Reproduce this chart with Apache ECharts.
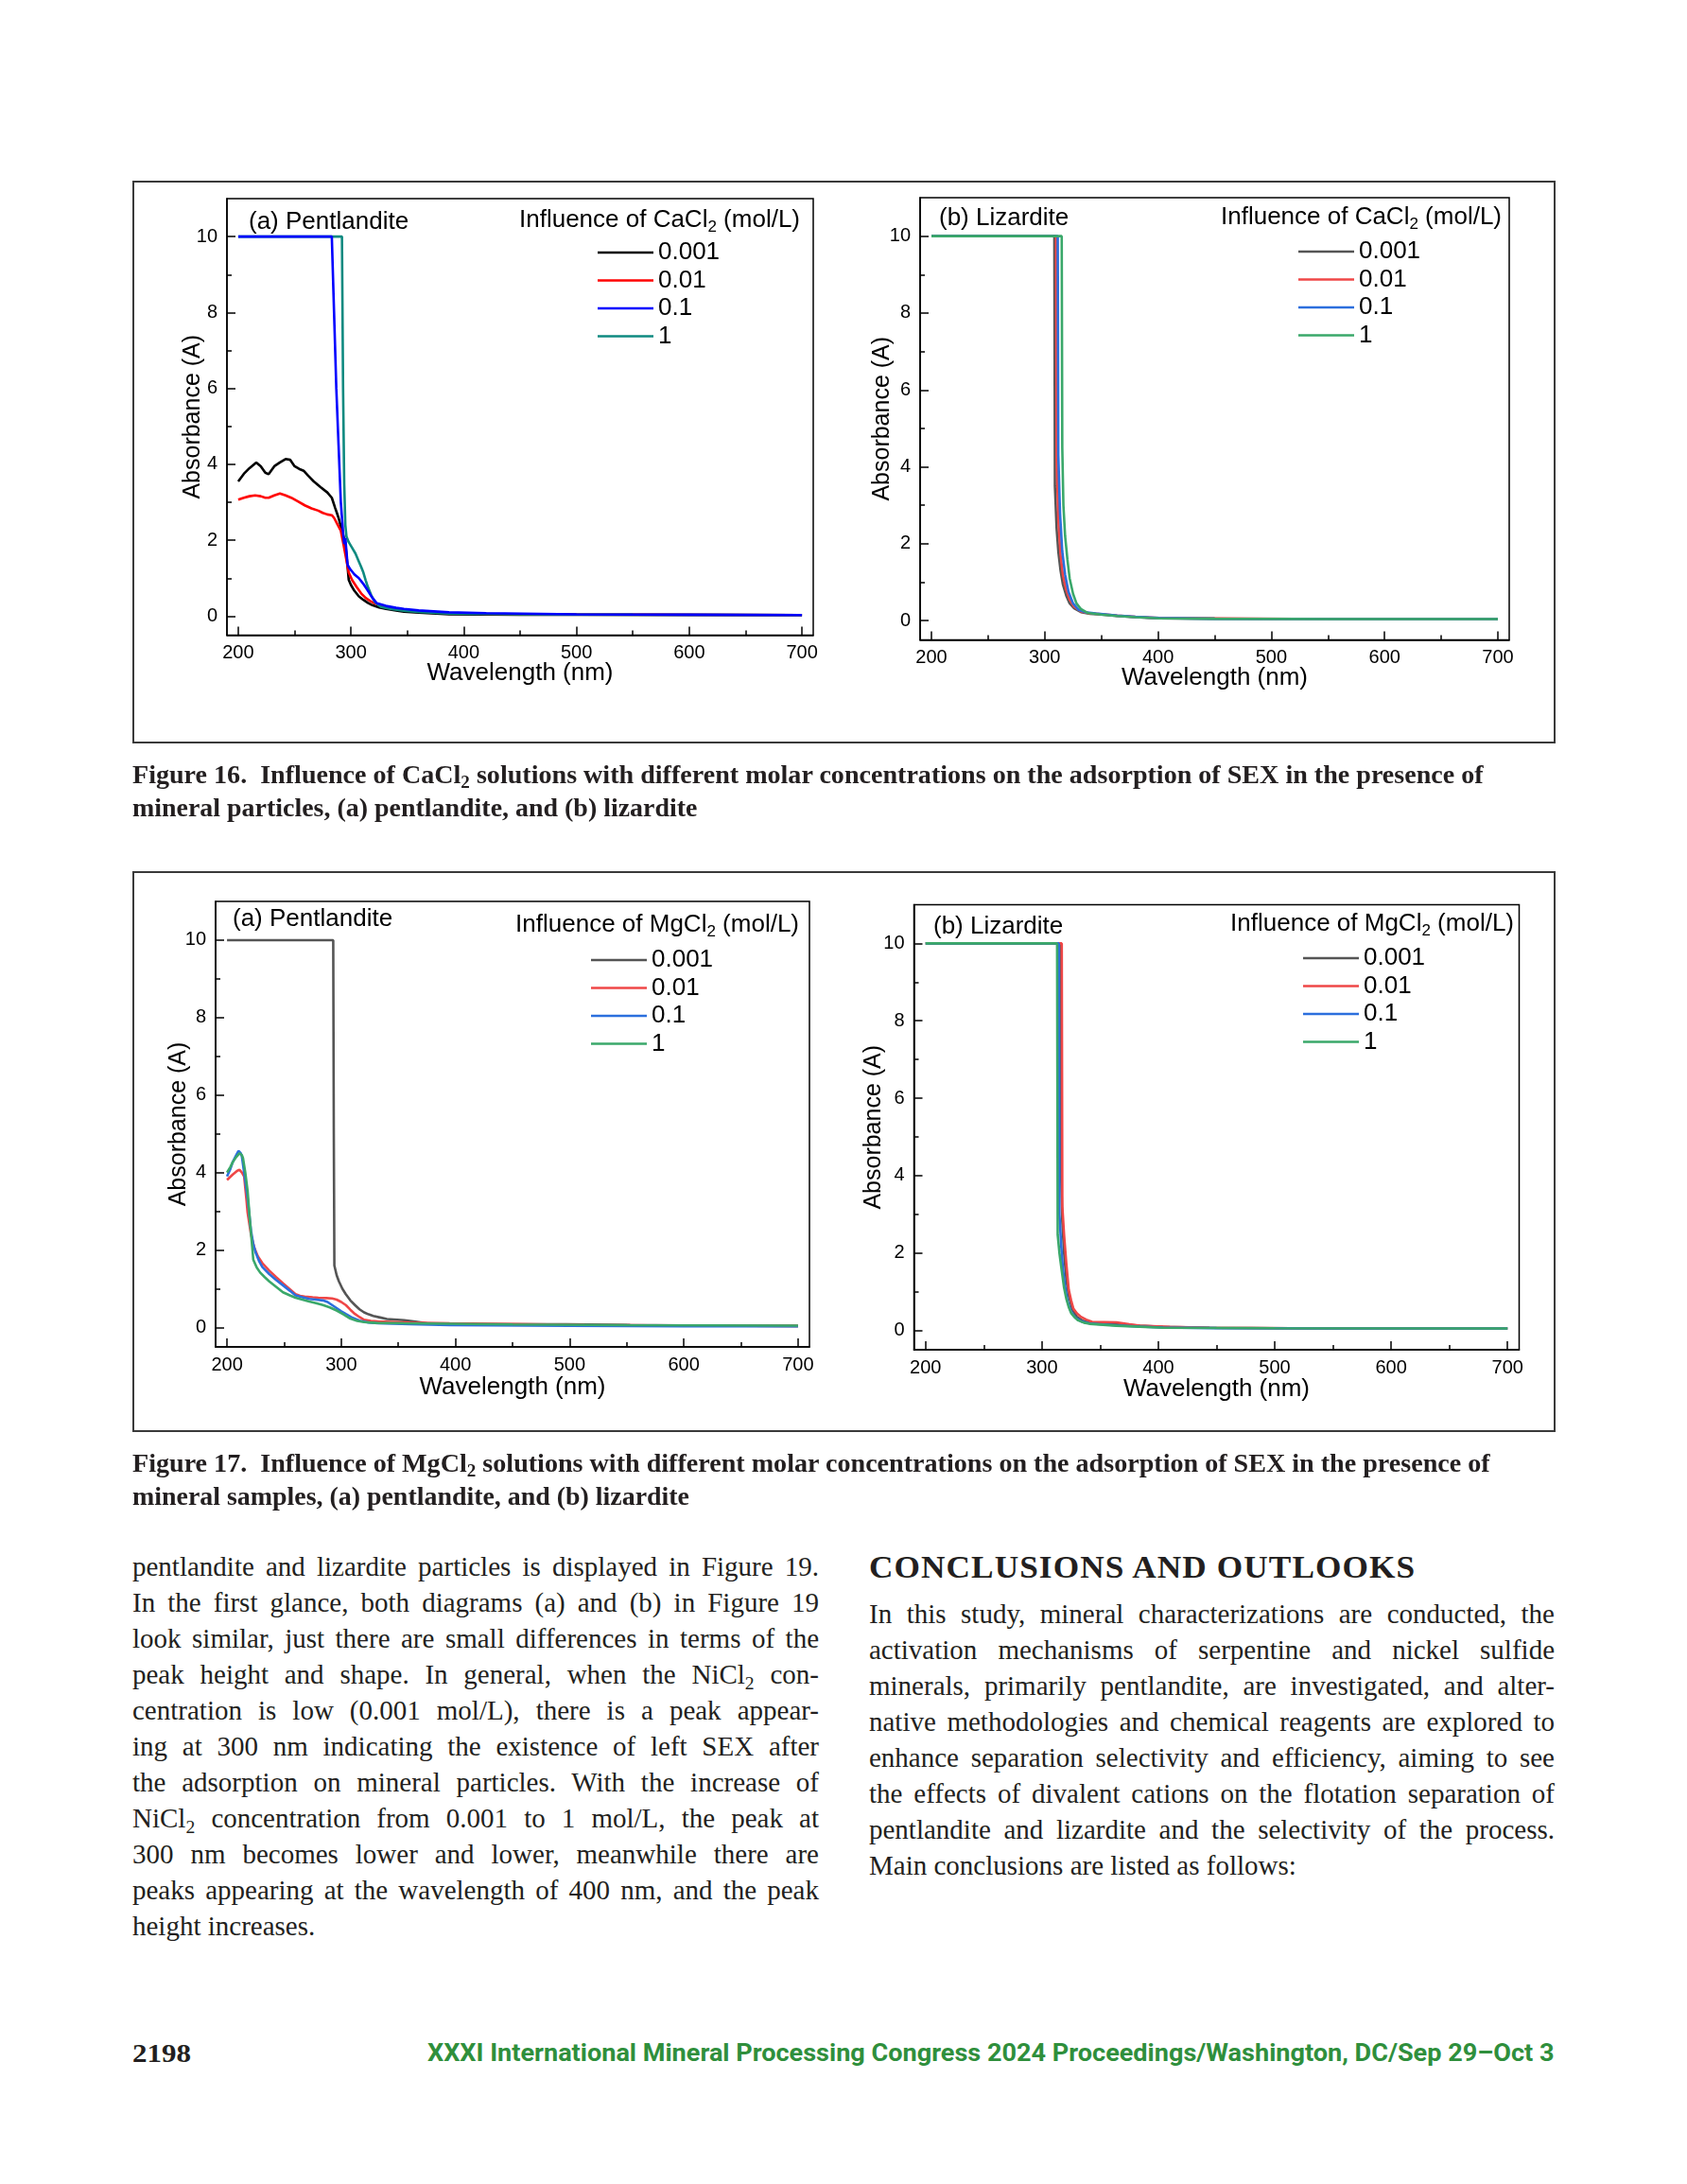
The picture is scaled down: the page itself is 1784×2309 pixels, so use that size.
<!DOCTYPE html>
<html><head><meta charset="utf-8">
<script src="https://cdn.jsdelivr.net/npm/echarts@6/dist/echarts.min.js"></script>
<style>
html,body{margin:0;padding:0;background:#fff;}
#page{position:relative;width:1784px;height:2309px;overflow:hidden;background:#fff;}
.box{position:absolute;border:2px solid #3a3a3a;box-sizing:border-box;}
#chart{position:absolute;left:0;top:0;width:1784px;height:1530px;}
.ln{position:absolute;white-space:nowrap;transform-origin:0 50%;color:#231f20;}
.cap{font-family:"Liberation Serif",serif;font-weight:bold;font-size:27px;line-height:36px;}
.body{font-family:"Liberation Serif",serif;font-size:29px;line-height:38px;}
.head{font-family:"Liberation Serif",serif;font-weight:bold;font-size:33px;line-height:40px;letter-spacing:1px;}
.foot{font-family:"Liberation Serif",serif;font-weight:bold;font-size:28px;line-height:36px;}
.green{font-family:Roboto,"Liberation Sans",sans-serif;font-weight:bold;font-size:25px;line-height:36px;color:#2f8f3c;}
sub{font-size:0.68em;vertical-align:-0.28em;line-height:0;}
</style></head>
<body>
<div id="page">
  <div class="box" style="left:140px;top:191px;width:1505px;height:595px;"></div>
  <div class="box" style="left:140px;top:921px;width:1505px;height:593px;"></div>
  <div id="chart"></div>

  <div class="ln cap" data-w="1429" style="left:140px;top:801px;">Figure 16.&nbsp; Influence of CaCl<sub>2</sub> solutions with different molar concentrations on the adsorption of SEX in the presence of</div>
  <div class="ln cap" data-w="597" style="left:140px;top:836px;">mineral particles, (a) pentlandite, and (b) lizardite</div>

  <div class="ln cap" data-w="1436" style="left:140px;top:1529px;">Figure 17.&nbsp; Influence of MgCl<sub>2</sub> solutions with different molar concentrations on the adsorption of SEX in the presence of</div>
  <div class="ln cap" data-w="589" style="left:140px;top:1564px;">mineral samples, (a) pentlandite, and (b) lizardite</div>

  <div class="ln body" data-j="726" data-g="L" style="left:140px;top:1637px;">pentlandite and lizardite particles is displayed in Figure 19.</div>
  <div class="ln body" data-j="726" data-g="L" style="left:140px;top:1675px;">In the first glance, both diagrams (a) and (b) in Figure 19</div>
  <div class="ln body" data-j="726" data-g="L" style="left:140px;top:1713px;">look similar, just there are small differences in terms of the</div>
  <div class="ln body" data-j="726" data-g="L" style="left:140px;top:1751px;">peak height and shape. In general, when the NiCl<sub>2</sub> con-</div>
  <div class="ln body" data-j="726" data-g="L" style="left:140px;top:1789px;">centration is low (0.001 mol/L), there is a peak appear-</div>
  <div class="ln body" data-j="726" data-g="L" style="left:140px;top:1827px;">ing at 300 nm indicating the existence of left SEX after</div>
  <div class="ln body" data-j="726" data-g="L" style="left:140px;top:1865px;">the adsorption on mineral particles. With the increase of</div>
  <div class="ln body" data-j="726" data-g="L" style="left:140px;top:1903px;">NiCl<sub>2</sub> concentration from 0.001 to 1 mol/L, the peak at</div>
  <div class="ln body" data-j="726" data-g="L" style="left:140px;top:1941px;">300 nm becomes lower and lower, meanwhile there are</div>
  <div class="ln body" data-j="726" data-g="L" style="left:140px;top:1979px;">peaks appearing at the wavelength of 400 nm, and the peak</div>
  <div class="ln body" data-g="L" style="left:140px;top:2017px;">height increases.</div>

  <div class="ln head" data-w="578" style="left:919px;top:1637px;">CONCLUSIONS AND OUTLOOKS</div>
  <div class="ln body" data-j="725" data-g="R" style="left:919px;top:1687px;">In this study, mineral characterizations are conducted, the</div>
  <div class="ln body" data-j="725" data-g="R" style="left:919px;top:1725px;">activation mechanisms of serpentine and nickel sulfide</div>
  <div class="ln body" data-j="725" data-g="R" style="left:919px;top:1763px;">minerals, primarily pentlandite, are investigated, and alter-</div>
  <div class="ln body" data-j="725" data-g="R" style="left:919px;top:1801px;">native methodologies and chemical reagents are explored to</div>
  <div class="ln body" data-j="725" data-g="R" style="left:919px;top:1839px;">enhance separation selectivity and efficiency, aiming to see</div>
  <div class="ln body" data-j="725" data-g="R" style="left:919px;top:1877px;">the effects of divalent cations on the flotation separation of</div>
  <div class="ln body" data-j="725" data-g="R" style="left:919px;top:1915px;">pentlandite and lizardite and the selectivity of the process.</div>
  <div class="ln body" data-g="R" style="left:919px;top:1953px;">Main conclusions are listed as follows:</div>

  <div class="ln foot" data-w="62" style="left:140px;top:2153px;">2198</div>
  <div class="ln green" data-w="1192" style="left:452px;top:2153px;">XXXI International Mineral Processing Congress 2024 Proceedings/Washington, DC/Sep 29–Oct 3</div>
</div>

<script>
// ---------- data (wavelength nm, absorbance A) ----------
const wavelengthTicks = [200, 300, 400, 500, 600, 700];
const wavelengthMinorTicks = [250, 350, 450, 550, 650];
const absorbanceTicks = [0, 2, 4, 6, 8, 10];
const absorbanceMinorTicks = [1, 3, 5, 7, 9];
const concentrations = ['0.001', '0.01', '0.1', '1'];

// Figure 16 (a) Pentlandite, CaCl2
const f16a_0001 = [[200,3.55],[205,3.75],[210,3.9],[216,4.05],[220,3.95],[224,3.78],[227,3.74],[232,3.95],[237,4.05],[242,4.14],[246,4.12],[250,3.95],[254,3.88],[258,3.83],[262,3.7],[267,3.55],[273,3.4],[279,3.26],[283,3.12],[286,2.85],[289,2.59],[292,2.25],[295,1.92],[297,1.3],[298,0.96],[300,0.82],[303,0.67],[307,0.52],[311,0.43],[315,0.35],[319,0.29],[325,0.23],[331,0.19],[340,0.15],[347,0.115],[360,0.09],[387,0.05],[450,0.04],[550,0.035],[700,0.03]];
const f16a_001 = [[200,3.07],[205,3.12],[210,3.16],[215,3.18],[220,3.16],[224,3.12],[227,3.12],[232,3.18],[237,3.23],[242,3.18],[247,3.12],[253,3.02],[259,2.92],[265,2.84],[271,2.78],[275,2.72],[279,2.68],[283,2.66],[285,2.59],[288,2.42],[291,2.25],[293,1.95],[295,1.63],[298,1.15],[301,0.95],[305,0.77],[309,0.6],[313,0.48],[317,0.4],[321,0.34],[328,0.26],[335,0.21],[345,0.17],[355,0.14],[370,0.11],[387,0.08],[420,0.06],[500,0.045],[700,0.03]];
const f16a_01 = [[200,10],[283,10],[285,8],[287,6],[289,4.5],[291,3.0],[293,2.2],[294,1.9],[295,2.06],[296,1.7],[297,1.35],[299,1.25],[303,1.1],[307,1.0],[311,0.85],[315,0.67],[319,0.48],[323,0.34],[331,0.27],[340,0.22],[347,0.19],[360,0.15],[387,0.1],[420,0.08],[500,0.05],[600,0.04],[700,0.03]];
const f16a_1 = [[200,10],[292,10],[293,6],[294,3.5],[295,2.4],[296,2.1],[298,1.95],[301,1.8],[304,1.65],[307,1.44],[309,1.3],[311,1.15],[313,0.95],[315,0.77],[318,0.55],[321,0.38],[324,0.3],[327,0.24],[335,0.19],[347,0.14],[360,0.11],[387,0.07],[450,0.05],[550,0.04],[700,0.03]];

// Figure 16 (b) Lizardite, CaCl2
const f16b_0001 = [[200,10],[308.5,10],[309,3.5],[310.5,2.4],[312,1.8],[314,1.3],[316,0.95],[319,0.65],[322,0.45],[326,0.32],[332,0.22],[340,0.18],[350,0.16],[364,0.12],[380,0.09],[401,0.06],[450,0.05],[550,0.04],[700,0.04]];
const f16b_001 = [[200,10],[310,10],[310.5,4.2],[312,2.6],[314,1.7],[316,1.2],[319,0.8],[322,0.55],[326,0.36],[332,0.24],[340,0.19],[350,0.17],[364,0.13],[380,0.1],[401,0.07],[460,0.06],[550,0.04],[700,0.04]];
const f16b_01 = [[200,10],[311.5,10],[312,4.3],[313.5,2.8],[315.5,1.8],[318,1.2],[321,0.75],[325,0.45],[330,0.28],[336,0.22],[345,0.19],[364,0.13],[380,0.1],[401,0.07],[450,0.05],[550,0.04],[700,0.04]];
const f16b_1 = [[200,10],[315,10],[315.5,4.5],[316.5,3.0],[318,2.2],[320,1.6],[322,1.1],[325,0.7],[328,0.45],[332,0.3],[338,0.2],[350,0.16],[364,0.12],[380,0.09],[401,0.06],[450,0.05],[550,0.04],[700,0.04]];

// Figure 17 (a) Pentlandite, MgCl2
const f17a_0001 = [[200,10],[293,10],[293.5,5],[294,1.6],[296,1.35],[298,1.19],[301,1.0],[304,0.86],[308,0.7],[312,0.58],[316,0.47],[320,0.39],[324,0.34],[328,0.3],[334,0.26],[340,0.22],[355,0.19],[365,0.15],[375,0.11],[395,0.085],[450,0.085],[497,0.085],[553,0.065],[620,0.05],[700,0.04]];
const f17a_001 = [[200,3.81],[205,3.95],[209,4.05],[211,4.07],[213,4.0],[215,3.9],[217,3.3],[218,2.97],[221,2.4],[224,2.05],[227,1.84],[231,1.66],[237,1.47],[243,1.3],[249,1.14],[255,0.99],[260,0.86],[264,0.82],[268,0.8],[275,0.78],[280,0.77],[287,0.76],[292,0.75],[296,0.72],[300,0.66],[304,0.58],[308,0.46],[312,0.35],[316,0.27],[320,0.2],[326,0.17],[332,0.16],[360,0.13],[395,0.11],[450,0.09],[513,0.065],[600,0.05],[700,0.04]];
const f17a_01 = [[200,3.9],[203,4.1],[205,4.27],[208,4.45],[210,4.56],[212,4.5],[213,4.42],[215,4.0],[218,3.34],[221,2.5],[223,2.15],[225,1.94],[228,1.72],[231,1.56],[237,1.38],[243,1.23],[249,1.09],[255,0.95],[260,0.83],[266,0.78],[272,0.74],[278,0.72],[284,0.7],[288,0.66],[292,0.58],[296,0.5],[300,0.42],[304,0.35],[310,0.25],[316,0.18],[324,0.13],[332,0.11],[360,0.09],[395,0.065],[500,0.045],[600,0.035],[700,0.03]];
const f17a_1 = [[200,4.0],[203,4.15],[205,4.27],[208,4.4],[211,4.5],[213,4.45],[214,4.37],[216,4.0],[218,3.53],[220,2.78],[222,2.1],[223,1.75],[226,1.55],[229,1.42],[233,1.3],[237,1.19],[243,1.05],[249,0.91],[255,0.83],[260,0.77],[266,0.72],[272,0.67],[278,0.63],[284,0.58],[290,0.52],[296,0.44],[302,0.34],[308,0.23],[314,0.17],[320,0.14],[330,0.12],[355,0.11],[450,0.08],[550,0.06],[700,0.05]];

// Figure 17 (b) Lizardite, MgCl2
const f17b_0001 = [[200,10],[316,10],[316.5,4],[317.5,2.8],[319,2.0],[321,1.3],[323,0.9],[326,0.55],[330,0.35],[335,0.25],[342,0.2],[355,0.19],[365,0.16],[384,0.12],[404,0.09],[444,0.07],[550,0.05],[700,0.05]];
const f17b_001 = [[200,10],[317,10],[317.5,3.2],[319,2.47],[321,1.7],[323,1.05],[325,0.78],[327,0.56],[330,0.44],[333,0.36],[338,0.28],[343,0.22],[364,0.21],[375,0.16],[384,0.12],[410,0.09],[444,0.07],[550,0.05],[700,0.05]];
const f17b_01 = [[200,10],[314.5,10],[315,3.0],[316.5,2.2],[318,1.6],[320,1.1],[322,0.75],[325,0.48],[329,0.32],[334,0.23],[341,0.18],[364,0.13],[384,0.1],[404,0.075],[450,0.06],[550,0.05],[700,0.05]];
const f17b_1 = [[200,10],[313,10],[313.5,2.47],[315,2.0],[317,1.54],[319,1.1],[321,0.81],[323,0.6],[325,0.45],[328,0.34],[331,0.26],[336,0.2],[341,0.17],[364,0.12],[404,0.07],[500,0.055],[700,0.05]];

// ---------- layout / styling ----------
const FONT = '"Liberation Sans", Arial, sans-serif';
const COL_A = ['#000000', '#ff0000', '#0000ff', '#0e8a80'];
const COL_B = ['#555555', '#ef4747', '#2c6fdd', '#3aa86a'];

const panels = [
  { id:'16a', salt:'CaCl', label:'(a) Pentlandite',
    grid:{left:240, top:210, width:620, height:461.5},
    xGap:27, yGap:23, labelPos:[263,235], titlePos:[846,233], legendPos:[632,254],
    data:[f16a_0001, f16a_001, f16a_01, f16a_1], colors:COL_A, order:[0,1,3,2] },
  { id:'16b', salt:'CaCl', label:'(b) Lizardite',
    grid:{left:973, top:209, width:623, height:467.5},
    xGap:27, yGap:27, labelPos:[993,231], titlePos:[1588,230], legendPos:[1373,253],
    data:[f16b_0001, f16b_001, f16b_01, f16b_1], colors:COL_B, order:[0,1,2,3] },
  { id:'17a', salt:'MgCl', label:'(a) Pentlandite',
    grid:{left:228, top:953, width:628, height:471},
    xGap:30, yGap:26, labelPos:[246,972], titlePos:[845,978], legendPos:[625,1002],
    data:[f17a_0001, f17a_001, f17a_01, f17a_1], colors:COL_B, order:[0,1,2,3] },
  { id:'17b', salt:'MgCl', label:'(b) Lizardite',
    grid:{left:966.5, top:956.5, width:640, height:470.5},
    xGap:29, yGap:30, labelPos:[987,980], titlePos:[1601,977], legendPos:[1378,1000],
    data:[f17b_0001, f17b_001, f17b_01, f17b_1], colors:COL_B, order:[0,1,2,3] }
];

const grids = [], xAxes = [], yAxes = [], series = [], legends = [], graphics = [];
const axisLineStyle = {color:'#000', width:1.5};

panels.forEach((p, i) => {
  grids.push(Object.assign({show:true, borderColor:'#000', borderWidth:1.5, backgroundColor:'transparent', containLabel:false}, p.grid));
  xAxes.push({type:'value', gridIndex:i, min:190, max:710, position:'bottom',
    axisLine:{show:true, onZero:false, lineStyle:axisLineStyle},
    axisTick:{show:true, inside:true, length:9, lineStyle:axisLineStyle, customValues:wavelengthTicks},
    axisLabel:{show:true, customValues:wavelengthTicks, fontSize:20, color:'#000', fontFamily:FONT, margin:9},
    splitLine:{show:false},
    name:'Wavelength (nm)', nameLocation:'middle', nameGap:p.xGap, nameMoveOverlap:false,
    nameTextStyle:{fontSize:26, color:'#000', fontFamily:FONT}});
  xAxes.push({type:'value', gridIndex:i, min:190, max:710, position:'bottom',
    axisLine:{show:false, onZero:false},
    axisTick:{show:true, inside:true, length:5, lineStyle:axisLineStyle, customValues:wavelengthMinorTicks},
    axisLabel:{show:false}, splitLine:{show:false}});
  yAxes.push({type:'value', gridIndex:i, min:-0.5, max:11, position:'left',
    axisLine:{show:true, onZero:false, lineStyle:axisLineStyle},
    axisTick:{show:true, inside:true, length:9, lineStyle:axisLineStyle, customValues:absorbanceTicks},
    axisLabel:{show:true, customValues:absorbanceTicks, fontSize:20, color:'#000', fontFamily:FONT, margin:10},
    splitLine:{show:false},
    name:'Absorbance (A)', nameLocation:'middle', nameGap:p.yGap, nameMoveOverlap:false,
    nameTextStyle:{fontSize:25, color:'#000', fontFamily:FONT}});
  yAxes.push({type:'value', gridIndex:i, min:-0.5, max:11, position:'left',
    axisLine:{show:false, onZero:false},
    axisTick:{show:true, inside:true, length:5, lineStyle:axisLineStyle, customValues:absorbanceMinorTicks},
    axisLabel:{show:false}, splitLine:{show:false}});

  p.order.forEach(k => {
    series.push({type:'line', name:p.id + '|' + concentrations[k], xAxisIndex:2*i, yAxisIndex:2*i,
      data:p.data[k], showSymbol:false, symbol:'none', silent:true, clip:true,
      lineStyle:{width:2.6, color:p.colors[k]}, itemStyle:{color:p.colors[k]}});
  });

  legends.push({orient:'vertical', left:p.legendPos[0], top:p.legendPos[1], padding:0,
    icon:'rect', itemWidth:59, itemHeight:2.5, itemGap:3.5, selectedMode:false,
    data:concentrations.map(c => p.id + '|' + c),
    formatter:name => name.split('|')[1],
    textStyle:{fontSize:26, lineHeight:26, color:'#000', fontFamily:FONT}});

  graphics.push({type:'text', x:p.labelPos[0], y:p.labelPos[1], silent:true,
    style:{text:p.label, fontSize:26, fontFamily:FONT, fill:'#000', align:'left', verticalAlign:'middle'}});
  graphics.push({type:'text', x:p.titlePos[0], y:p.titlePos[1], silent:true,
    style:{text:'{n|Influence of ' + p.salt + '}{s|2}{n| (mol/L)}', align:'right', verticalAlign:'middle',
      rich:{n:{fontSize:26, fontFamily:FONT, fill:'#000'},
            s:{fontSize:17, fontFamily:FONT, fill:'#000', padding:[14,0,0,0]}}}});
});

const chart = echarts.init(document.getElementById('chart'), null, {renderer:'canvas'});
chart.setOption({animation:false, grid:grids, xAxis:xAxes, yAxis:yAxes, series:series, legend:legends, graphic:graphics});

// ---------- fit text lines to their measured widths ----------
function fitLines(){
  const groups = {};
  document.querySelectorAll('.ln').forEach(el => {
    const nat = el.offsetWidth;
    if (el.dataset.w) {
      el.style.transform = 'scaleX(' + (parseFloat(el.dataset.w) / nat) + ')';
    } else if (el.dataset.j) {
      const w = parseFloat(el.dataset.j);
      const g = el.dataset.g;
      if (nat > w) {
        const s = w / nat;
        el.style.transform = 'scaleX(' + s + ')';
        (groups[g] = groups[g] || []).push(s);
      } else {
        el.style.width = w + 'px';
        el.style.whiteSpace = 'normal';
        el.style.textAlign = 'justify';
        el.style.textAlignLast = 'justify';
        (groups[g] = groups[g] || []).push(1);
      }
    }
  });
  document.querySelectorAll('.ln').forEach(el => {
    if (!el.dataset.w && !el.dataset.j && el.dataset.g) {
      const arr = groups[el.dataset.g] || [1];
      const s = Math.min.apply(null, arr);
      if (s < 1) el.style.transform = 'scaleX(' + s + ')';
    }
  });
}
fitLines();
</script>
</body></html>
